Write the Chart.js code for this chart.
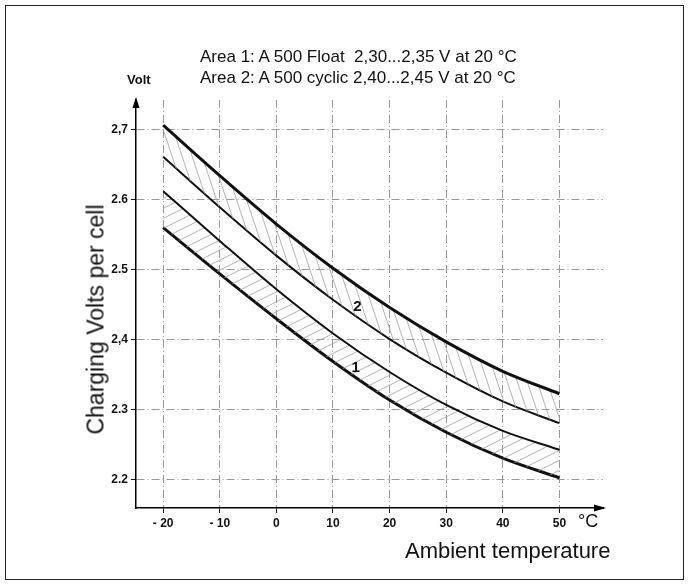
<!DOCTYPE html>
<html>
<head>
<meta charset="utf-8">
<script src="https://cdn.jsdelivr.net/npm/chart.js@4.4.1/dist/chart.umd.min.js"></script>
<style>
  body { margin: 0; background: #fff; font-family: "Liberation Sans", Arial, sans-serif; }
  #wrap { position: relative; width: 689px; height: 585px; overflow: hidden; }
  #frame { position: absolute; left: 5px; top: 5px; width: 677px; height: 573px; border: 1px solid #222; }
  canvas { position: absolute; left: 0; top: 0; }
  .t { position: absolute; white-space: nowrap; color: #111; }
</style>
</head>
<body>
<div id="wrap">
  <div id="frame"></div>
  <canvas id="chart" width="689" height="585"></canvas>
  <div class="t" style="left:200px;top:47px;font-size:17px">Area 1: A 500 Float&nbsp; 2,30...2,35 V at 20 °C</div>
  <div class="t" style="left:200px;top:68px;font-size:17px">Area 2: A 500 cyclic 2,40...2,45 V at 20 °C</div>
  <div class="t" style="left:127px;top:72px;font-size:13px;font-weight:bold">Volt</div>
  <div class="t" style="left:578px;top:511px;font-size:18px">°C</div>
  <div class="t" style="left:405px;top:538px;font-size:22px">Ambient temperature</div>
  <div class="t" style="left:-34px;top:306px;width:260px;text-align:center;font-size:23px;transform:rotate(-90deg)">Charging Volts per cell</div>
</div>
<script>
// ===== data =====
const temps = [-20, -10, 0, 10, 20, 30, 40, 50];
const tempLabels = ["- 20", "- 10", "0", "10", "20", "30", "40", "50"];
const voltTicks = [2.2, 2.3, 2.4, 2.5, 2.6, 2.7];
const voltLabels = ["2.2", "2.3", "2,4", "2.5", "2.6", "2,7"];

// area 2 (cyclic): upper and lower bound
const cyclicHigh = [2.706, 2.634, 2.565, 2.502, 2.446, 2.397, 2.355, 2.323];
const cyclicLow  = [2.661, 2.589, 2.520, 2.457, 2.401, 2.353, 2.312, 2.281];
// area 1 (float): upper and lower bound
const floatHigh  = [2.612, 2.541, 2.472, 2.409, 2.354, 2.307, 2.270, 2.243];
const floatLow   = [2.560, 2.494, 2.430, 2.369, 2.314, 2.268, 2.231, 2.203];

// ===== hatch patterns =====
function makeHatch(w, h, steep) {
  const c = document.createElement("canvas");
  c.width = w; c.height = h;
  const g = c.getContext("2d");
  g.strokeStyle = "#a0a0a0";
  g.lineWidth = 0.8;
  g.beginPath();
  if (steep) {
    // "\" lines, repeat horizontally
    for (let k = -1; k <= 1; k++) {
      g.moveTo(k * w, 0);
      g.lineTo(k * w + w, h);
    }
  } else {
    // "/" lines, repeat vertically
    for (let k = -1; k <= 1; k++) {
      g.moveTo(0, h + k * h);
      g.lineTo(w, k * h);
    }
  }
  g.stroke();
  return g.createPattern(c, "repeat");
}
const hatch2 = makeHatch(10, 30, true);
const hatch1 = makeHatch(20, 10, false);

function toPoints(arr) {
  return arr.map((v, i) => ({ x: temps[i], y: v }));
}

// ===== extra drawing: arrows and area numbers =====
const decoPlugin = {
  id: "deco",
  afterDatasetsDraw(chart) {
    const g = chart.ctx;
    const xs = chart.scales.x, ys = chart.scales.y;
    const a = chart.chartArea;
    g.save();
    g.fillStyle = "#000";
    // y arrow
    g.beginPath();
    g.moveTo(a.left, a.top - 3);
    g.lineTo(a.left - 3.5, a.top + 8);
    g.lineTo(a.left + 3.5, a.top + 8);
    g.closePath();
    g.fill();
    // x arrow
    g.beginPath();
    g.moveTo(a.right + 3, a.bottom);
    g.lineTo(a.right - 9, a.bottom - 3.5);
    g.lineTo(a.right - 9, a.bottom + 3.5);
    g.closePath();
    g.fill();
    // area numbers
    g.font = "bold 15px 'Liberation Sans', Arial, sans-serif";
    g.textAlign = "center";
    g.textBaseline = "middle";
    g.fillStyle = "#111";
    g.fillText("2", xs.getPixelForValue(14.3), ys.getPixelForValue(2.447));
    g.fillText("1", xs.getPixelForValue(14.0), ys.getPixelForValue(2.360));
    g.restore();
  }
};

const tickFont = { family: "'Liberation Sans', Arial, sans-serif", size: 12, weight: "bold" };
const gridOpts = { color: "#999", lineWidth: 1, tickLength: 5, tickColor: "#111", tickBorderDash: [] };
const borderOpts = { display: true, color: "#000", width: 1.5, dash: [8, 3, 1, 3] };

new Chart(document.getElementById("chart"), {
  type: "line",
  data: {
    datasets: [
      { data: toPoints(cyclicHigh), borderWidth: 3, fill: "+1", backgroundColor: hatch2 },
      { data: toPoints(cyclicLow), borderWidth: 2, fill: false },
      { data: toPoints(floatHigh), borderWidth: 2, fill: "+1", backgroundColor: hatch1 },
      { data: toPoints(floatLow), borderWidth: 3, fill: false }
    ]
  },
  options: {
    responsive: false,
    animation: false,
    layout: { padding: { left: 0, top: 100, right: 86, bottom: 0 } },
    elements: {
      line: { borderColor: "#111", cubicInterpolationMode: "monotone" },
      point: { radius: 0 }
    },
    plugins: { legend: { display: false }, tooltip: { enabled: false } },
    scales: {
      x: {
        type: "linear",
        min: -24.8,
        max: 57.7,
        afterFit(scale) { scale.height = 77; },
        afterBuildTicks(scale) { scale.ticks = temps.map(v => ({ value: v })); },
        ticks: {
          autoSkip: false,
          maxRotation: 0,
          padding: 3,
          color: "#111",
          font: tickFont,
          callback: (v, i) => tempLabels[i]
        },
        grid: gridOpts,
        border: borderOpts
      },
      y: {
        min: 2.160,
        max: 2.742,
        afterFit(scale) { scale.width = 136; },
        afterBuildTicks(scale) { scale.ticks = voltTicks.map(v => ({ value: v })); },
        ticks: {
          autoSkip: false,
          padding: 3,
          color: "#111",
          font: tickFont,
          callback: (v, i) => voltLabels[i]
        },
        grid: gridOpts,
        border: borderOpts
      }
    }
  },
  plugins: [decoPlugin]
});
</script>
</body>
</html>
